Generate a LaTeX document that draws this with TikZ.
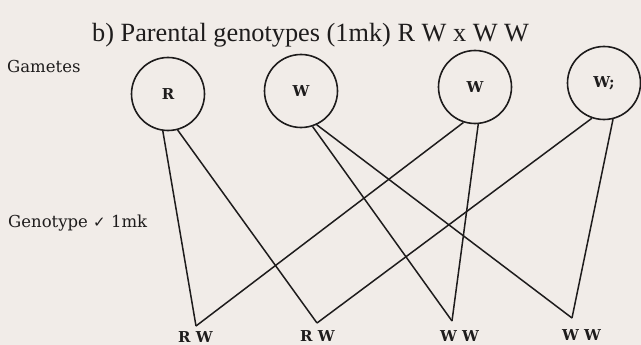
\documentclass[tikz,border=0pt]{standalone}
\usepackage{fontspec}
\setmainfont{Liberation Serif}
\newfontfamily\labelfont{DejaVu Serif}
\newfontfamily\symfont{DejaVu Sans}
\definecolor{paper}{RGB}{241,236,232}
\definecolor{ink}{RGB}{30,28,28}

\begin{document}
\begin{tikzpicture}[x=1pt,y=-1pt,
  gamete/.style={circle,draw=ink,line width=1.6pt,minimum size=73pt,inner sep=0pt,
    text=ink,font=\labelfont\bfseries\fontsize{15}{15}\selectfont},
  crossline/.style={draw=ink,line width=1.5pt},
  offspring/.style={inner sep=0pt,anchor=north,text=ink,
    font=\labelfont\bfseries\fontsize{15}{15}\selectfont},
  sidenote/.style={inner sep=0pt,anchor=base west,text=ink,
    font=\labelfont\fontsize{16.5}{16.5}\selectfont}]

  % paper and frame
  \useasboundingbox (0,0) rectangle (641,345);
  \fill[paper] (0,0) rectangle (641,345);

  % heading
  \node[inner sep=0pt,anchor=base west,text=ink,font=\fontsize{26.3}{26.3}\selectfont]
    (title) at (92,42) {b) Parental genotypes (1mk) R W x W W};

  % side notes
  \node[sidenote] (gam) at (7,73) {Gametes};
  \node[sidenote] (gen) at (8,227) {Genotype {\symfont\fontsize{15}{15}\selectfont ✓} 1mk};

  % gametes
  \node[gamete] (g1) at (168,94) {R};
  \node[gamete] (g2) at (301,91) {W};
  \node[gamete] (g3) at (475,87) {W};
  \node[gamete] (g4) at (604,83) {W;};

  % meeting points of the crosses
  \coordinate (v1) at (196,326);
  \coordinate (v2) at (317,323);
  \coordinate (v3) at (452,321);
  \coordinate (v4) at (572,318);

  % offspring genotypes
  \node[offspring] (o1) at (195.5,331) {R W};
  \node[offspring] (o2) at (317.5,330) {R W};
  \node[offspring] (o3) at (459.5,330) {W W};
  \node[offspring] (o4) at (581.5,329) {W W};

  % fusion lines
  \draw[crossline] (g1.262) -- (v1);
  \draw[crossline] (g1.285) -- (v2);
  \draw[crossline] (g2.288) -- (v3);
  \draw[crossline] (g2.295) -- (v4);
  \draw[crossline] (g3.252) -- (v1);
  \draw[crossline] (g3.275) -- (v3);
  \draw[crossline] (g4.251) -- (v2);
  \draw[crossline] (g4.284) -- (v4);
\end{tikzpicture}
\end{document}
